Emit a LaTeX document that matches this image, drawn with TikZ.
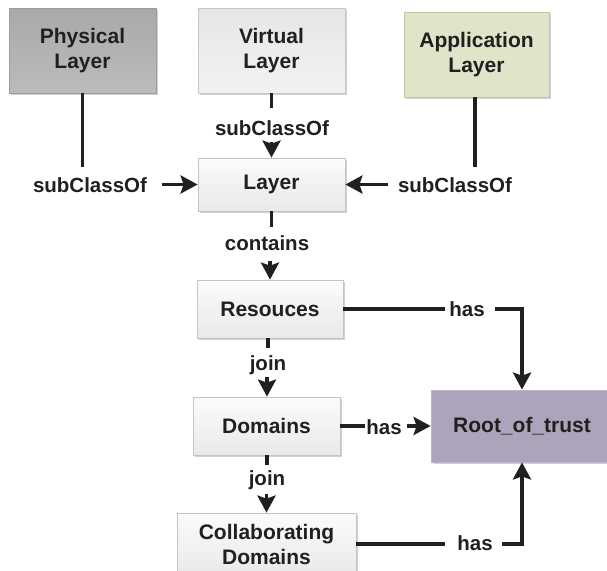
\documentclass[tikz,border=0pt]{standalone}
\usepackage{fontspec}
\setmainfont{Liberation Sans}
\usetikzlibrary{arrows.meta,shadows}
\definecolor{txt}{HTML}{231F20}
\definecolor{physTop}{HTML}{A9A9A9}
\definecolor{physBot}{HTML}{BBBBBB}
\definecolor{physLine}{HTML}{9C9C9C}
\definecolor{virTop}{HTML}{E6E6E6}
\definecolor{virBot}{HTML}{F2F2F2}
\definecolor{virLine}{HTML}{C6C6C6}
\definecolor{appFill}{HTML}{DEE5C8}
\definecolor{appLine}{HTML}{BFC7A6}
\definecolor{wTop}{HTML}{FBFBFB}
\definecolor{wBot}{HTML}{E9E9E9}
\definecolor{wLine}{HTML}{C4C4C4}
\definecolor{rootFill}{HTML}{ABA4BA}
\definecolor{rootLine}{HTML}{BDB6CB}
\begin{document}
\begin{tikzpicture}[x=1pt,y=-1pt,
  box/.style={rectangle, line width=0.8pt, align=center, inner sep=0pt,
    font=\fontsize{21}{25}\selectfont\bfseries, text=txt,
    drop shadow={shadow xshift=1.5pt, shadow yshift=-1.5pt, opacity=0.18, fill=black}},
  physbox/.style={box, draw=physLine, top color=physTop, bottom color=physBot},
  virbox/.style={box, draw=virLine, top color=virTop, bottom color=virBot},
  appbox/.style={box, draw=appLine, fill=appFill},
  wbox/.style={box, draw=wLine, top color=wTop, bottom color=wBot},
  rootbox/.style={box, draw=rootLine, fill=rootFill},
  lbl/.style={font=\fontsize{20.5}{24}\selectfont\bfseries, text=txt, inner sep=0pt},
  ln/.style={line width=3.5pt, draw=txt},
  arr/.style={ln, -{Stealth[length=17pt,width=18pt,inset=3pt]}}
]
\useasboundingbox (0,0) rectangle (607,570);
\fill[white] (0,0) rectangle (607,570);

% boxes
\node[physbox, minimum width=147pt, minimum height=85pt] (phys) at (82.5,50.5) {Physical\\Layer};
\node[virbox, minimum width=147pt, minimum height=85pt] (vir) at (271.5,50.5) {Virtual\\Layer};
\node[appbox, minimum width=145pt, minimum height=85pt] (app) at (476.5,54.5) {Application\\Layer};
\node[wbox, minimum width=147pt, minimum height=53pt] (lay) at (271.5,184.5) {Layer};
\node[wbox, minimum width=146pt, minimum height=58pt] (res) at (270,309) {Resouces};
\node[wbox, minimum width=147pt, minimum height=58pt] (dom) at (266.5,426) {Domains};
\node[wbox, minimum width=179pt, minimum height=62pt] (col) at (266.5,544) {Collaborating\\Domains};
\node[rootbox, minimum width=182pt, minimum height=72pt] (root) at (522,426) {Root\_of\_trust};

% labels
\node[lbl] (lA) at (90,185) {subClassOf};
\node[lbl] (lV) at (272,128) {subClassOf};
\node[lbl] (lP) at (455,185) {subClassOf};
\node[lbl] (lC) at (267,243) {contains};
\node[lbl] (lJ1) at (268,365) {join};
\node[lbl] (lJ2) at (267,480) {join};
\node[lbl] (lH1) at (467,309) {has};
\node[lbl] (lH2) at (384,427) {has};
\node[lbl] (lH3) at (475,543) {has};

% free ends
\coordinate (pA1) at (82.5,167);
\coordinate (pA2) at (162,184.5);
\coordinate (pV1) at (271.5,108);
\coordinate (pV2) at (271.5,142);
\coordinate (pP1) at (475,167);
\coordinate (pP2) at (388,184.5);
\coordinate (pC1) at (271.5,227);
\coordinate (pC2) at (270,261);
\coordinate (pJ1a) at (268,348);
\coordinate (pJ1b) at (267,377);
\coordinate (pJ2a) at (267,465);
\coordinate (pJ2b) at (266.5,494);
\coordinate (pH1a) at (445,309);
\coordinate (pH1b) at (495,309);
\coordinate (pH2a) at (365,426);
\coordinate (pH2b) at (407,426);
\coordinate (pH3a) at (445,544);
\coordinate (pH3b) at (502,544);

% connectors
\draw[ln] (phys.south) -- (pA1);
\draw[arr] (pA2) -- (lay.west);
\draw[ln] (vir.south) -- (pV1);
\draw[arr] (pV2) -- (lay.north);
\draw[ln] (app.south -| pP1) -- (pP1);
\draw[arr] (pP2) -- (lay.east);
\draw[ln] (lay.south) -- (pC1);
\draw[arr] (pC2) -- (res.north);
\draw[ln] (res.south -| pJ1a) -- (pJ1a);
\draw[arr] (pJ1b) -- (dom.north -| pJ1b);
\draw[ln] (dom.south -| pJ2a) -- (pJ2a);
\draw[arr] (pJ2b) -- (col.north);
\draw[ln] (res.east) -- (pH1a);
\draw[arr] (pH1b) -| (root.north);
\draw[ln] (dom.east) -- (pH2a);
\draw[arr] (pH2b) -- (root.west);
\draw[ln] (col.east) -- (pH3a);
\draw[arr] (pH3b) -| (root.south);
\end{tikzpicture}
\end{document}
